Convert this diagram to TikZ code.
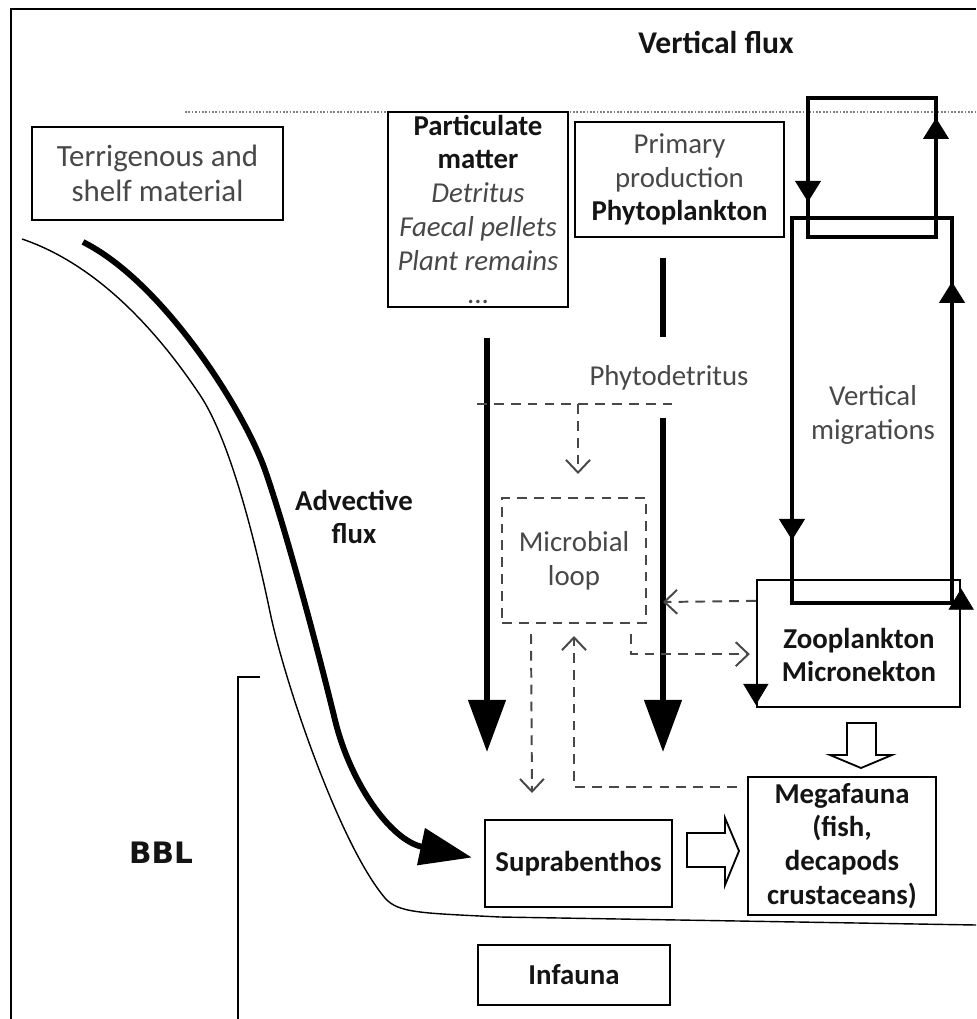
\documentclass[tikz,border=0pt]{standalone}
\usepackage{fontspec}
\setmainfont{Carlito}
\newfontfamily\bblfont{DejaVu Sans}
\usepackage{xcolor}
\usepackage{tikz}
\usetikzlibrary{arrows.meta, decorations.markings, calc}
\definecolor{txtG}{RGB}{72,72,72}
\definecolor{txtK}{RGB}{20,20,20}
\newcommand{\bk}[1]{\textcolor{txtK}{\bfseries #1}}
\tikzset{
  box/.style={draw, line width=1.6pt, inner sep=0pt, align=center, text=txtG,
    font=\fontsize{20.5}{24}\selectfont},
  lbl/.style={inner sep=0pt, align=center, text=txtG, font=\fontsize{20.5}{24}\selectfont},
  sink/.style={line width=4.2pt, -{Triangle[length=37pt,width=26pt]}},
  dsh/.style={line width=1.4pt, dash pattern=on 7pt off 5pt, txtG},
  dtip/.style={dsh, -{Straight Barb[length=9pt,width=17pt]}},
  migr/.style={line width=2.4pt, postaction={decorate}},
  migtip/.tip={Triangle[length=15pt,width=18pt]}
}

\begin{document}
\begin{tikzpicture}[x=0.025cm, y=-0.025cm]
\useasboundingbox (0,0) rectangle (976,1019);
% frame and surface line
\draw[line width=1.4pt] (11,1019) -- (11,9) -- (976,9);
\draw[gray, line width=0.9pt, dash pattern=on 1.2pt off 1.2pt] (185,112) -- (976,112);
\node[lbl, font=\fontsize{22.5}{26}\selectfont] (vflux) at (716,42) {\bk{Vertical flux}};

% boxes
\node[box, line width=2pt, minimum width=6.275cm, minimum height=2.325cm,
  font=\fontsize{22}{25}\selectfont] (terr) at (157.5,173.5) {Terrigenous and\\shelf material};
\node[box, minimum width=4.5cm, minimum height=4.875cm] (part) at (478,209.5)
  {\bk{Particulate}\\\bk{matter}\\\textit{Detritus}\\\textit{Faecal pellets}\\\textit{Plant remains}\\...};
\node[box, minimum width=5.225cm, minimum height=2.875cm] (prim) at (679.5,179.5)
  {Primary\\production\\\bk{Phytoplankton}};
\node[box, dsh, minimum width=3.6cm, minimum height=3.125cm] (micro) at (574,560.5) {Microbial\\loop};
\node[box, minimum width=4.7cm, minimum height=3.45cm] (mega) at (842,846)
  {\bk{Megafauna}\\\bk{(fish,}\\\bk{decapods}\\\bk{crustaceans)}};
\node[box, minimum width=4.675cm, minimum height=2.175cm] (supra) at (578.5,863.5) {\bk{Suprabenthos}};
\node[box, minimum width=4.8cm, minimum height=1.5cm] (infa) at (574,975) {\bk{Infauna}};

% labels
\node[lbl] (phyd) at (669,378) {Phytodetritus};
\node[lbl] (vmig) at (873,415) {Vertical\\migrations};
\node[lbl] (adv) at (354,517) {\bk{Advective}\\\bk{flux}};
\node[lbl, text=txtK, font=\bblfont\bfseries\fontsize{21}{24}\selectfont] (bbl) at (161,853) {BBL};

% seafloor and BBL bracket
\draw[line width=1pt] (22,239) .. controls (90,262) and (150,320) .. (200,395)
  .. controls (230,440) and (255,540) .. (270,612)
  .. controls (285,684) and (340,845) .. (385,898)
  .. controls (398,913) and (420,913) .. (500,917) -- (976,925);
\coordinate (bb0) at (260,677);
\coordinate (bb1) at (238,1019);
\draw[line width=1.4pt] (bb0) -- (bb1 |- bb0) -- (bb1);

% advective flux
\coordinate (av0) at (83,242);
\coordinate (av1) at (265,470);
\coordinate (av2) at (335,720);
\draw[sink] (av0) .. controls (163,282) and (244,410) .. (av1)
  .. controls (286,530) and (318,650) .. (av2)
  .. controls (350,782) and (390,840) .. ($(supra.west)+(-12,-6)$);

% sinking particles
\coordinate (pa0) at (487,338);
\coordinate (pa1) at (487,752);
\draw[sink] (pa0) -- (pa1);
\coordinate (ph0) at (663,258);
\coordinate (ph1) at (663,337);
\coordinate (ph2) at (663,418);
\coordinate (ph3) at (663,752);
\draw[line width=4.2pt] (ph0) -- (ph1);
\draw[sink] (ph2) -- (ph3);

% migration loops
\draw[migr, decoration={markings,
    mark=at position 2.6cm with {\arrow{migtip}},
    mark=at position 9.65cm with {\arrow{migtip}}}]
  (808,98) -- (808,237) -- (936,237) -- (936,98) -- cycle;
\draw[migr, decoration={markings,
    mark=at position 8.05cm with {\arrow{migtip}},
    mark=at position 21.65cm with {\arrow{migtip}}}]
  (792,218) -- (792,603) -- (952,603) -- (952,218) -- cycle;
\node[box, minimum width=5.075cm, minimum height=3.175cm] (zoo) at (858.5,643.5) {};
\node[lbl] (zootxt) at (859,655) {\bk{Zooplankton}\\\bk{Micronekton}};
\path[postaction={decorate}, decoration={markings,
    mark=at position 3.15cm with {\arrow{migtip}},
    mark=at position 11.35cm with {\arrow{migtip}}}]
  (zoo.north west) -- (zoo.south west) -- (zoo.south east) -- (zoo.north east);

% microbial loop links
\coordinate (pd0) at (477,404);
\coordinate (pd1) at (678,404);
\coordinate (pd2) at (578,404);
\draw[dsh] (pd0) -- (pd1);
\draw[dtip] (pd2) -- ($(micro.north)+(4,-23)$);
\draw[dtip] ($(zoo.north west)+(0,22)$) -- (ph3 |- 0,602);
\draw[dtip] ($(micro.south east)+(-16,10)$) |- ($(zoo.south west)+(-6,-54)$);
\draw[dtip] ($(micro.south west)+(30,10)$) -- (532,793);
\draw[dtip] ($(mega.north west)+(-10,11)$) -| ($(micro.south)+(0,12)$);

% block arrows
\draw[line width=1.3pt] (687,833) -- (725,833) -- (725,818) -- (739,851) -- (725,885)
  -- (725,867) -- (687,867) -- cycle;
\draw[line width=1.3pt] (847,723) -- (876,723) -- (876,755) -- (892,755) -- (861,768)
  -- (830,755) -- (847,755) -- cycle;
\end{tikzpicture}
\end{document}
